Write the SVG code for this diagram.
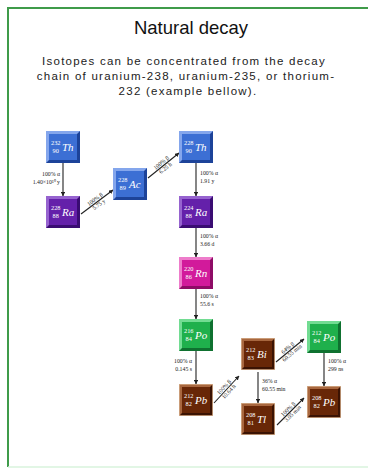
<svg xmlns="http://www.w3.org/2000/svg" width="368" height="469" viewBox="0 0 368 469">
  <defs>
    <marker id="arrow" viewBox="0 0 6 6" refX="5.5" refY="3" markerWidth="4" markerHeight="4" orient="auto">
      <path d="M0,0 L6,3 L0,6 Z" fill="#222"/>
    </marker>
    <style>
      .title { font-family: "Liberation Sans", Arial, sans-serif; font-size: 18.5px; fill: #111; text-anchor: middle; }
      .body { font-family: "Liberation Sans", Arial, sans-serif; font-size: 11.5px; fill: #222; text-anchor: middle; letter-spacing: 1.25px; }
      .lbl { font-family: "Liberation Serif", "Times New Roman", serif; font-size: 5.8px; fill: #222; }
      .end { text-anchor: end; }
      .mid { text-anchor: middle; }
      .conn line { stroke: #222; stroke-width: 1.1; marker-end: url(#arrow); }
      .num { font-family: "Liberation Serif", serif; font-size: 6.3px; fill: #fff; }
      .sym { font-family: "Liberation Serif", serif; font-style: italic; font-size: 11px; fill: #fff; }
      .blue .rim { fill: #1d4399; } .blue .hi { fill: #84a6ec; } .blue .face { fill: #3c6fd4; }
      .purple .rim { fill: #3a0c72; } .purple .hi { fill: #9663cf; } .purple .face { fill: #6420aa; }
      .magenta .rim { fill: #8e0c66; } .magenta .hi { fill: #ee7ccb; } .magenta .face { fill: #d21a9b; }
      .green .rim { fill: #0f7130; } .green .hi { fill: #72dc92; } .green .face { fill: #1fb04c; }
      .brown .rim { fill: #3b1303; } .brown .hi { fill: #a8673f; } .brown .face { fill: #682707; }
      .brown .edge { fill: none; stroke: #d2ab88; stroke-width: 0.8; }
    </style>
  </defs>

  <rect width="368" height="469" fill="#fff"/>

  <!-- frame -->
  <path d="M8,467 V8 H368" fill="none" stroke="#3f9b4a" stroke-width="2"/>
  <line x1="8" y1="467" x2="368" y2="467" stroke="#d8f3dc" stroke-width="1.5"/>

  <!-- heading -->
  <text class="title" x="191" y="34">Natural decay</text>
  <text class="body" x="184" y="65">Isotopes can be concentrated from the decay</text>
  <text class="body" x="186" y="80">chain of uranium-238, uranium-235, or thorium-</text>
  <text class="body" x="188" y="95">232 (example bellow).</text>

  <!-- connectors -->
  <g id="connectors" class="conn">
    <line x1="63" y1="163" x2="63" y2="196"/>
    <text class="lbl end" x="60" y="176">100% α</text>
    <text class="lbl end" x="60" y="184">1.40×10¹⁰ y</text>

    <line x1="81" y1="214" x2="113" y2="190"/>
    <g transform="translate(97,202) rotate(-37)">
      <text class="lbl mid" x="0" y="-1.5">100% β</text>
      <text class="lbl mid" x="0" y="5">5.75 y</text>
    </g>

    <line x1="148" y1="178" x2="179" y2="153"/>
    <g transform="translate(163.5,165.5) rotate(-39)">
      <text class="lbl mid" x="0" y="-1.5">100% β</text>
      <text class="lbl mid" x="0" y="5">6.25 h</text>
    </g>

    <line x1="196" y1="163" x2="196" y2="196"/>
    <text class="lbl" x="200" y="175">100% α</text>
    <text class="lbl" x="200" y="183">1.91 y</text>

    <line x1="196" y1="228" x2="196" y2="257"/>
    <text class="lbl" x="200" y="238">100% α</text>
    <text class="lbl" x="200" y="246">3.66 d</text>

    <line x1="196" y1="289" x2="196" y2="319"/>
    <text class="lbl" x="200" y="298">100% α</text>
    <text class="lbl" x="200" y="306">55.6 s</text>

    <line x1="196" y1="351" x2="196" y2="384"/>
    <text class="lbl end" x="192" y="363">100% α</text>
    <text class="lbl end" x="192" y="371">0.145 s</text>

    <line x1="214" y1="403" x2="239" y2="376"/>
    <g transform="translate(226.5,389.5) rotate(-47)">
      <text class="lbl mid" x="0" y="-1.5">100% β</text>
      <text class="lbl mid" x="0" y="5">10.64 h</text>
    </g>

    <line x1="276" y1="362" x2="304" y2="339"/>
    <g transform="translate(290,350.5) rotate(-40)">
      <text class="lbl mid" x="0" y="-1.5">64% β</text>
      <text class="lbl mid" x="0" y="5">60.55 min</text>
    </g>

    <line x1="258" y1="372" x2="258" y2="403"/>
    <text class="lbl" x="262" y="383">36% α</text>
    <text class="lbl" x="262" y="391">60.55 min</text>

    <line x1="324" y1="353" x2="324" y2="386"/>
    <text class="lbl" x="328" y="363">100% α</text>
    <text class="lbl" x="328" y="371">299 ns</text>

    <line x1="277" y1="425" x2="304" y2="398"/>
    <g transform="translate(290.5,411.5) rotate(-45)">
      <text class="lbl mid" x="0" y="-1.5">100% β</text>
      <text class="lbl mid" x="0" y="5">3.05 min</text>
    </g>
  </g>

  <!-- nuclides -->
  <g id="th232" class="blue" transform="translate(46,131)">
    <rect class="rim" width="34" height="32"/>
    <polygon class="hi" points="0,0 34,0 31,3 3,3 3,29 0,32"/>
    <rect class="face" x="3" y="3" width="28" height="26"/>
    <text class="num" x="5" y="14">232</text><text class="num" x="6.5" y="21.5">90</text>
    <text class="sym" x="16" y="20">Th</text>
  </g>
  <g id="ra228" class="purple" transform="translate(46,196)">
    <rect class="rim" width="34" height="32"/>
    <polygon class="hi" points="0,0 34,0 31,3 3,3 3,29 0,32"/>
    <rect class="face" x="3" y="3" width="28" height="26"/>
    <text class="num" x="5" y="14">228</text><text class="num" x="6.5" y="21.5">88</text>
    <text class="sym" x="16" y="20">Ra</text>
  </g>
  <g id="ac228" class="blue" transform="translate(113,168)">
    <rect class="rim" width="34" height="32"/>
    <polygon class="hi" points="0,0 34,0 31,3 3,3 3,29 0,32"/>
    <rect class="face" x="3" y="3" width="28" height="26"/>
    <text class="num" x="5" y="14">228</text><text class="num" x="6.5" y="21.5">89</text>
    <text class="sym" x="16" y="20">Ac</text>
  </g>
  <g id="th228" class="blue" transform="translate(179,131)">
    <rect class="rim" width="34" height="32"/>
    <polygon class="hi" points="0,0 34,0 31,3 3,3 3,29 0,32"/>
    <rect class="face" x="3" y="3" width="28" height="26"/>
    <text class="num" x="5" y="14">228</text><text class="num" x="6.5" y="21.5">90</text>
    <text class="sym" x="16" y="20">Th</text>
  </g>
  <g id="ra224" class="purple" transform="translate(179,196)">
    <rect class="rim" width="34" height="32"/>
    <polygon class="hi" points="0,0 34,0 31,3 3,3 3,29 0,32"/>
    <rect class="face" x="3" y="3" width="28" height="26"/>
    <text class="num" x="5" y="14">224</text><text class="num" x="6.5" y="21.5">88</text>
    <text class="sym" x="16" y="20">Ra</text>
  </g>
  <g id="rn220" class="magenta" transform="translate(179,257)">
    <rect class="rim" width="34" height="32"/>
    <polygon class="hi" points="0,0 34,0 31,3 3,3 3,29 0,32"/>
    <rect class="face" x="3" y="3" width="28" height="26"/>
    <text class="num" x="5" y="14">220</text><text class="num" x="6.5" y="21.5">86</text>
    <text class="sym" x="16" y="20">Rn</text>
  </g>
  <g id="po216" class="green" transform="translate(179,319)">
    <rect class="rim" width="34" height="32"/>
    <polygon class="hi" points="0,0 34,0 31,3 3,3 3,29 0,32"/>
    <rect class="face" x="3" y="3" width="28" height="26"/>
    <text class="num" x="5" y="14">216</text><text class="num" x="6.5" y="21.5">84</text>
    <text class="sym" x="16" y="20">Po</text>
  </g>
  <g id="pb212" class="brown" transform="translate(179,384)">
    <rect class="rim" width="34" height="32"/>
    <polygon class="hi" points="0,0 34,0 31,3 3,3 3,29 0,32"/>
    <rect class="face" x="3" y="3" width="28" height="26"/>
    <rect class="edge" x="0.4" y="0.4" width="33.2" height="31.2"/>
    <text class="num" x="5" y="14">212</text><text class="num" x="6.5" y="21.5">82</text>
    <text class="sym" x="16" y="20">Pb</text>
  </g>
  <g id="bi212" class="brown" transform="translate(241,338)">
    <rect class="rim" width="34" height="32"/>
    <polygon class="hi" points="0,0 34,0 31,3 3,3 3,29 0,32"/>
    <rect class="face" x="3" y="3" width="28" height="26"/>
    <rect class="edge" x="0.4" y="0.4" width="33.2" height="31.2"/>
    <text class="num" x="5" y="14">212</text><text class="num" x="6.5" y="21.5">83</text>
    <text class="sym" x="16" y="20">Bi</text>
  </g>
  <g id="tl208" class="brown" transform="translate(241,403)">
    <rect class="rim" width="34" height="32"/>
    <polygon class="hi" points="0,0 34,0 31,3 3,3 3,29 0,32"/>
    <rect class="face" x="3" y="3" width="28" height="26"/>
    <rect class="edge" x="0.4" y="0.4" width="33.2" height="31.2"/>
    <text class="num" x="5" y="14">208</text><text class="num" x="6.5" y="21.5">81</text>
    <text class="sym" x="16" y="20">Tl</text>
  </g>
  <g id="po212" class="green" transform="translate(307,321)">
    <rect class="rim" width="34" height="32"/>
    <polygon class="hi" points="0,0 34,0 31,3 3,3 3,29 0,32"/>
    <rect class="face" x="3" y="3" width="28" height="26"/>
    <text class="num" x="5" y="14">212</text><text class="num" x="6.5" y="21.5">84</text>
    <text class="sym" x="16" y="20">Po</text>
  </g>
  <g id="pb208" class="brown" transform="translate(307,386)">
    <rect class="rim" width="34" height="32"/>
    <polygon class="hi" points="0,0 34,0 31,3 3,3 3,29 0,32"/>
    <rect class="face" x="3" y="3" width="28" height="26"/>
    <rect class="edge" x="0.4" y="0.4" width="33.2" height="31.2"/>
    <text class="num" x="5" y="14">208</text><text class="num" x="6.5" y="21.5">82</text>
    <text class="sym" x="16" y="20">Pb</text>
  </g>
</svg>
